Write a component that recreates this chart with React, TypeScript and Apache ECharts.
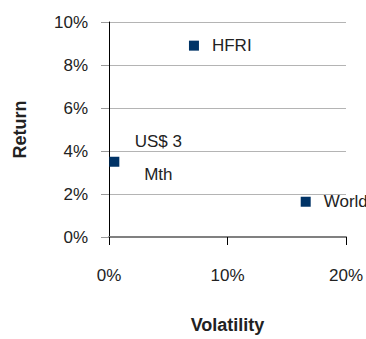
import React, { useEffect, useRef } from "react";
import * as echarts from "echarts";

const names = ["HFRI", "US$ 3\nMth", "World"];
const volatility = [0.0717, 0.0045, 0.166];
const returns = [0.089, 0.035, 0.0164];
const xTicks = [0, 0.1, 0.2];
const yTicks = [0, 0.02, 0.04, 0.06, 0.08, 0.1];

const FONT = "Liberation Sans, Arial, sans-serif";

export default function App() {
  const ref = useRef<HTMLDivElement>(null);
  useEffect(() => {
    if (!ref.current) return;
    const chart = echarts.init(ref.current, undefined, { renderer: "svg" });
    const pct = (v: number) => `${Math.round(v * 100)}%`;
    const labelFor = (i: number) => {
      if (i === 1) {
        return {
          show: true,
          position: "inside",
          align: "center",
          verticalAlign: "middle",
          offset: [44, -4],
          lineHeight: 33,
        };
      }
      return { show: true, position: "right", distance: 13 };
    };
    chart.setOption({
      animation: false,
      textStyle: { fontFamily: FONT },
      grid: { left: 109, right: 20, top: 22, bottom: 102, containLabel: false },
      xAxis: {
        type: "value",
        min: xTicks[0],
        max: xTicks[xTicks.length - 1],
        interval: 0.1,
        name: "Volatility",
        nameLocation: "middle",
        nameGap: 79,
        nameTextStyle: { fontFamily: FONT, fontSize: 18, fontWeight: "bold", color: "#222" },
        axisLine: { show: true, onZero: false, lineStyle: { color: "#808080", width: 2 } },
        axisTick: { show: true, length: 8, lineStyle: { color: "#000", width: 1 } },
        axisLabel: { formatter: pct, margin: 30, fontSize: 17, color: "#222", fontFamily: FONT },
        splitLine: { show: false },
      },
      yAxis: {
        type: "value",
        min: yTicks[0],
        max: yTicks[yTicks.length - 1],
        interval: 0.02,
        name: "Return",
        nameLocation: "middle",
        nameGap: 80,
        nameTextStyle: { fontFamily: FONT, fontSize: 18, fontWeight: "bold", color: "#222" },
        axisLine: { show: true, onZero: false, lineStyle: { color: "#000", width: 1 } },
        axisTick: { show: true, length: 8, lineStyle: { color: "#999", width: 1 } },
        axisLabel: { formatter: pct, margin: 21, fontSize: 17, color: "#222", fontFamily: FONT },
        splitLine: { show: true, lineStyle: { color: "#b4b4b4", width: 1 } },
      },
      series: [
        {
          type: "scatter",
          symbol: "rect",
          symbolSize: 10,
          itemStyle: { color: "#003366", opacity: 1 },
          label: { fontSize: 17, color: "#222", fontFamily: FONT },
          data: names.map((n, i) => ({
            name: n,
            value: [volatility[i], returns[i]],
            label: { ...labelFor(i), formatter: n },
          })),
        },
      ],
    });
    return () => chart.dispose();
  }, []);
  return (
    <div
      ref={ref}
      style={{ position: "absolute", left: 0, top: 0, width: 366, height: 339, background: "#fff" }}
    />
  );
}
